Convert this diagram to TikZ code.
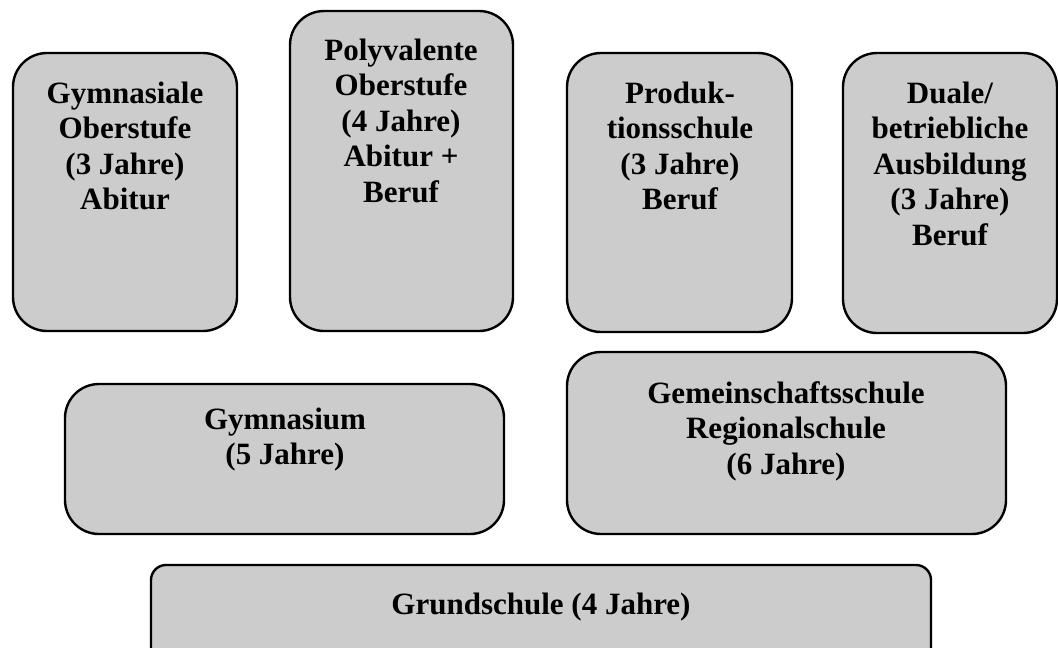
\documentclass[tikz,border=0pt]{standalone}
\usepackage{fontspec}
\setmainfont{Liberation Serif}
\definecolor{boxgray}{HTML}{CCCCCC}
\begin{document}
\begin{tikzpicture}[x=1pt,y=-1pt,
  box/.style={draw=black, line width=2.4pt, fill=boxgray, rounded corners=34pt},
  smallbox/.style={draw=black, line width=2.4pt, fill=boxgray, rounded corners=15pt},
  txt/.style={font=\fontsize{31}{35.5}\selectfont\bfseries, align=center, inner sep=0pt, anchor=base}]
\useasboundingbox (0,0) rectangle (1058,648);
% boxes
\draw[box] (13,53) rectangle (237,331);
\draw[box] (290,11) rectangle (513,331);
\draw[box] (567,53) rectangle (792,332);
\draw[box] (843,53) rectangle (1057,333);
\draw[box] (65,384) rectangle (504,534);
\draw[box] (567,352) rectangle (1006,534);
\draw[smallbox] (151,565) rectangle (931,665);
% texts (anchor = baseline of the last line)
\node[txt] (gyo) at (125,209.5) {Gymnasiale\\Oberstufe\\(3 Jahre)\\Abitur};
\node[txt] (poly) at (401,202) {Polyvalente\\Oberstufe\\(4 Jahre)\\Abitur +\\Beruf};
\node[txt] (prod) at (680,209.5) {Produk-\\tionsschule\\(3 Jahre)\\Beruf};
\node[txt] (dual) at (950,245) {Duale/\\betriebliche\\Ausbildung\\(3 Jahre)\\Beruf};
\node[txt] (gym) at (285,464.5) {Gymnasium\\(5 Jahre)};
\node[txt] (gem) at (786,474) {Gemeinschaftsschule\\Regionalschule\\(6 Jahre)};
\node[txt] (grund) at (541,614) {Grundschule (4 Jahre)};
\end{tikzpicture}
\end{document}
